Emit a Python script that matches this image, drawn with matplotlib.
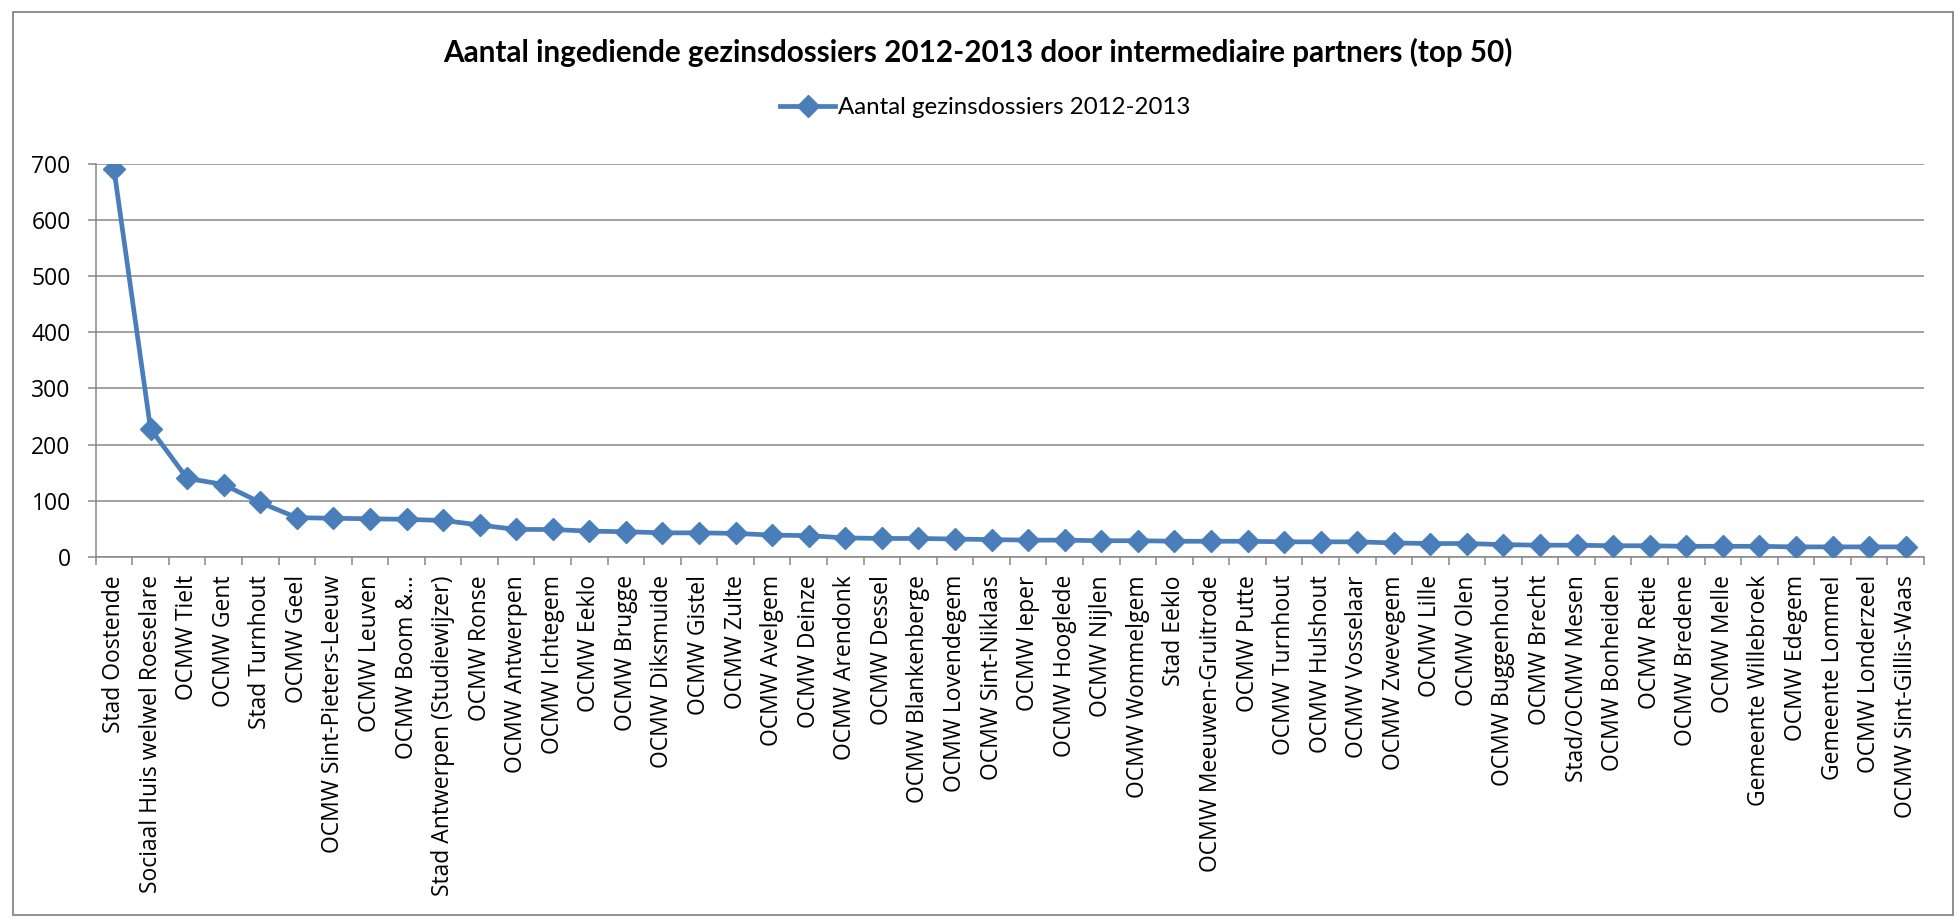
import matplotlib
matplotlib.use('Agg')
import matplotlib.pyplot as plt
from matplotlib.patches import Rectangle

# data
partners = ['Stad Oostende', 'Sociaal Huis welwel Roeselare', 'OCMW Tielt', 'OCMW Gent',
            'Stad Turnhout', 'OCMW Geel', 'OCMW Sint-Pieters-Leeuw', 'OCMW Leuven',
            'OCMW Boom &…', 'Stad Antwerpen (Studiewijzer)', 'OCMW Ronse', 'OCMW Antwerpen',
            'OCMW Ichtegem', 'OCMW Eeklo', 'OCMW Brugge', 'OCMW Diksmuide', 'OCMW Gistel',
            'OCMW Zulte', 'OCMW Avelgem', 'OCMW Deinze', 'OCMW Arendonk', 'OCMW Dessel',
            'OCMW Blankenberge', 'OCMW Lovendegem', 'OCMW Sint-Niklaas', 'OCMW Ieper',
            'OCMW Hooglede', 'OCMW Nijlen', 'OCMW Wommelgem', 'Stad Eeklo',
            'OCMW Meeuwen-Gruitrode', 'OCMW Putte', 'OCMW Turnhout', 'OCMW Hulshout',
            'OCMW Vosselaar', 'OCMW Zwevegem', 'OCMW Lille', 'OCMW Olen', 'OCMW Buggenhout',
            'OCMW Brecht', 'Stad/OCMW Mesen', 'OCMW Bonheiden', 'OCMW Retie', 'OCMW Bredene',
            'OCMW Melle', 'Gemeente Willebroek', 'OCMW Edegem', 'Gemeente Lommel',
            'OCMW Londerzeel', 'OCMW Sint-Gillis-Waas']
dossiers = [690, 228, 140, 129, 97, 70, 69, 68, 67, 65,
            57, 49, 49, 46, 45, 43, 43, 42, 39, 38,
            34, 33, 33, 32, 31, 30, 30, 29, 29, 28,
            28, 28, 27, 27, 27, 25, 24, 24, 22, 21,
            21, 20, 20, 19, 19, 19, 18, 18, 18, 18]
y_ticks = [0, 100, 200, 300, 400, 500, 600, 700]

series_name = 'Aantal gezinsdossiers 2012-2013'
title = 'Aantal ingediende gezinsdossiers 2012-2013 door intermediaire partners (top 50)'

W, H = 1955, 917
blue = '#4A7EBB'
grey = '#878787'

plt.rcParams['font.family'] = ['Open Sans', 'DejaVu Sans']

fig = plt.figure(figsize=(W / 100, H / 100), dpi=100)
fig.patch.set_facecolor('white')

# outer chart border
fig.patches.append(Rectangle((13 / W, 2 / H), (1953 - 13) / W, (910 - 7) / H,
                             transform=fig.transFigure, fill=False,
                             edgecolor=grey, lw=1.3))

left, right, top, bottom = 95.7, 1924, 163.7, 557
ax = fig.add_axes([left / W, 1 - bottom / H, (right - left) / W, (bottom - top) / H])

x = list(range(len(partners)))
ax.plot(x, dossiers, color=blue, lw=3.4, marker='D', markersize=11,
        markerfacecolor=blue, markeredgecolor=blue, label=series_name, zorder=3)

ax.set_xlim(-0.5, len(partners) - 0.5)
ax.set_ylim(0, 700)
ax.set_yticks(y_ticks)
ax.yaxis.grid(True, color=grey, lw=1.1)
ax.set_axisbelow(True)

for s in ['top', 'right']:
    ax.spines[s].set_visible(False)
for s in ['left', 'bottom']:
    ax.spines[s].set_color(grey)
    ax.spines[s].set_linewidth(1.1)

ax.set_xticks(x)
ax.set_xticklabels(partners, rotation=90, fontsize=16.5)
ax.tick_params(axis='x', which='major', length=0, pad=13)
ax.set_xticks([i - 0.5 for i in range(len(partners) + 1)], minor=True)
ax.tick_params(axis='x', which='minor', length=6, color=grey, width=1.1)
ax.tick_params(axis='y', length=6, color=grey, width=1.1, labelsize=16.5, pad=12)

fig.text(0.5, 1 - 52 / H, title, ha='center', va='center',
         fontsize=21.3, fontweight='bold', family=['Lato', 'DejaVu Sans'])

fig.legend(loc='center', bbox_to_anchor=(985 / W, 1 - 108 / H), frameon=False,
           prop={'family': ['Lato', 'DejaVu Sans'], 'size': 17.3},
           handlelength=2.3, handletextpad=0.1)

fig.savefig('out.png', dpi=100, facecolor='white')
